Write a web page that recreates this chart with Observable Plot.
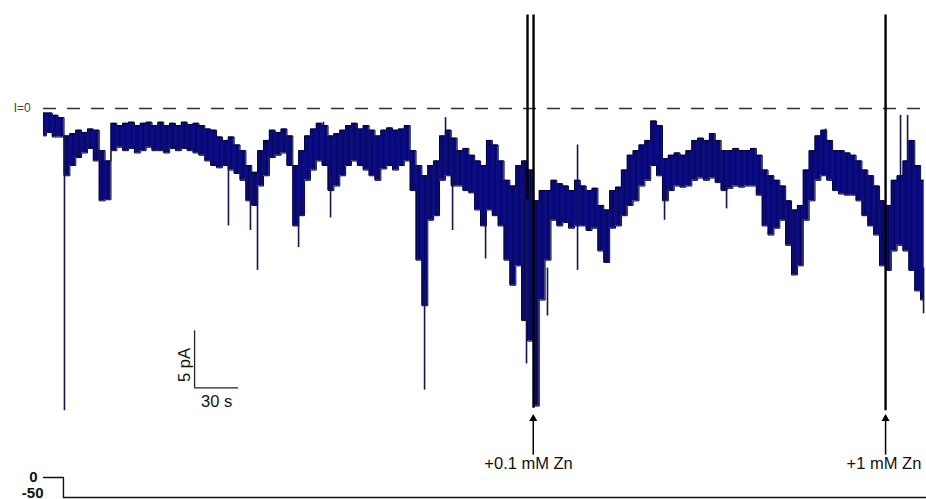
<!DOCTYPE html>
<html>
<head>
<meta charset="utf-8">
<script src="https://cdn.jsdelivr.net/npm/d3@7"></script>
<script src="https://cdn.jsdelivr.net/npm/@observablehq/plot@0.6"></script>
<style>
  html, body { margin: 0; padding: 0; background: #fff; }
  #chart svg { display: block; }
</style>
</head>
<body>
<div id="chart"></div>
<script>
// ---- data (time in s, current in pA) ----
const times = [0,4,8,12,16,20,24,28,32,36,40,44,48,52,56,60,64,68,72,76,80,84,88,92,96,100,104,108,112,116,120,124,128,132,136,140,144,148,152,156,160,164,168,172,176,180,184,188,192,196,200,204,208,212,216,220,224,228,232,236,240,244,248,252,256,260,264,268,272,276,280,284,288,292,296,300,304,308,312,316,320,324,328,332,336,340,344,348,352,356,360,364,368,372,376,380,384,388,392,396,400,404,408,412,416,420,424,428,432,436,440,444,448,452,456,460,464,468,472,476,480,484,488,492,496,500,504,508,512,516,520,524,528,532,536,540,544,548,552,556,560,564,568,572,576,580,584,588,592,596,600];
const currentHigh = [
  -0.4,-0.4,-0.6,-0.8,-2.4,-2.2,-1.9,-2.1,-1.8,-1.9,
  -3.7,-4.6,-1.3,-1.5,-1.3,-1.2,-1.5,-1.3,-1.2,-1.5,
  -1.2,-1.5,-1.3,-1.5,-1.2,-1.4,-1.3,-1.5,-1.8,-1.9,
  -2.5,-2.8,-2.5,-3.2,-3.7,-5.0,-5.6,-3.7,-2.8,-1.9,
  -2.1,-1.8,-2.4,-5.0,-3.7,-2.4,-1.8,-1.3,-1.5,-2.4,
  -2.2,-1.9,-1.5,-1.3,-1.8,-1.5,-1.9,-2.4,-1.9,-1.7,
  -1.9,-1.8,-1.5,-3.7,-5.0,-5.9,-5.0,-4.6,-2.4,-1.9,
  -2.6,-3.7,-3.5,-4.1,-4.6,-5.0,-2.8,-3.2,-4.6,-6.3,
  -6.8,-5.0,-4.6,-5.4,-8.1,-7.2,-7.2,-6.3,-6.6,-6.8,
  -7.2,-6.3,-6.8,-7.2,-7.0,-8.5,-8.9,-7.2,-6.9,-5.4,
  -4.1,-3.7,-3.2,-2.8,-1.1,-1.5,-4.4,-4.1,-3.9,-4.1,
  -3.7,-2.8,-2.6,-2.8,-2.2,-2.8,-3.7,-3.7,-3.5,-3.7,
  -3.7,-3.5,-4.1,-5.4,-5.9,-6.3,-6.8,-8.1,-8.9,-8.5,
  -5.4,-3.7,-2.4,-1.9,-2.8,-3.7,-3.7,-3.9,-4.1,-4.6,
  -5.4,-5.9,-6.8,-8.1,-8.5,-6.3,-5.9,-4.6,-2.8,-5.0,-6.3];
const currentLow = [
  -2.4,-2.1,-2.5,-2.5,-5.9,-5.0,-4.3,-3.9,-3.5,-4.6,
  -8.1,-8.0,-3.7,-3.4,-3.7,-3.5,-3.9,-3.7,-3.4,-3.7,
  -3.7,-3.9,-3.5,-3.7,-3.5,-3.7,-3.9,-4.1,-4.6,-5.0,
  -5.2,-5.0,-5.4,-5.7,-6.3,-8.1,-8.5,-6.8,-5.9,-4.3,
  -4.1,-3.9,-5.0,-10.3,-9.4,-6.3,-5.4,-4.6,-5.0,-7.2,
  -6.8,-5.9,-5.0,-4.6,-5.0,-5.4,-5.9,-6.3,-5.3,-5.0,
  -5.4,-5.0,-4.6,-7.2,-13.3,-17.3,-9.8,-9.4,-6.3,-5.9,
  -6.8,-6.8,-7.2,-7.4,-8.9,-10.3,-8.9,-9.4,-10.3,-13.3,
  -15.5,-13.8,-18.6,-20.4,-26.1,-16.8,-13.3,-9.8,-10.3,-10.0,
  -10.5,-10.3,-10.3,-10.7,-10.5,-12.5,-13.5,-10.5,-10.3,-9.4,
  -8.5,-8.1,-6.8,-6.3,-5.0,-5.9,-8.1,-7.2,-6.8,-6.9,
  -6.8,-6.3,-6.1,-6.3,-6.1,-6.5,-7.2,-7.0,-6.8,-6.9,
  -6.8,-6.8,-7.6,-10.3,-11.1,-10.5,-9.8,-12.0,-14.6,-13.8,
  -9.8,-8.1,-6.3,-5.9,-6.3,-7.2,-7.5,-7.6,-7.6,-8.1,
  -9.4,-10.3,-11.1,-13.8,-14.2,-12.5,-12.0,-12.5,-14.2,-16.0,-16.8];

// brief openings / spikes of the trace
const spikeTimes = [14.3, 126.1, 141.1, 145.9, 173.9, 195.7, 259.8, 278.9, 301.4, 343.6, 364.1, 423.4, 465.7, 600, 274.1, 190.9, 533.2, 584.3, 589.1, 329.3];
const spikeFrom  = [-2.4, -4.5, -6.0, -7.0, -8.0, -6.0, -15.0, -6.0, -9.0, -14.0, -3.2, -7.0, -6.5, -14.0, -3.0, -2.0, -3.0, -6.0, -6.0, -8.0];
const spikeTo    = [-26.5, -10.3, -10.7, -14.2, -12.2, -9.6, -24.7, -10.7, -13.2, -18.2, -14.2, -9.8, -8.8, -18.0, -0.8, -1.2, -1.8, -0.6, -0.6, -22.4];

// application artifacts (black)
const artifactTimes = [330.0, 334.1, 574.1];
const artifactTop   = [8.2, 8.2, 8.2];
const artifactBottom= [-8.0, -26.3, -26.5];

// drug applications
const drugTimes  = [333.9, 574.1];
const drugLabels = ["+0.1 mM Zn", "+1 mM Zn"];
const drugLabelTimes = [330.7, 573.0];

// scale bar
const scaleBarTime = 30;   // s
const scaleBarCurrent = 5; // pA
const scaleBarOrigin = [103, -24.5];

// holding potential protocol (mV)
const protocolTimes = [0, 13.6, 13.6, 602];
const protocolVoltages = [0, 0, -50, -50];
const voltageTicks = [0, -50];

// ---- build ----
const trace = times.map((t, i) => ({t, hi: currentHigh[i], lo: currentLow[i]}));
const spikes = spikeTimes.map((t, i) => ({t, a: spikeFrom[i], b: spikeTo[i]}));
const artifacts = artifactTimes.map((t, i) => ({t, a: artifactTop[i], b: artifactBottom[i]}));
const drugs = drugTimes.map((t, i) => ({t, label: drugLabels[i], lt: drugLabelTimes[i]}));
const protocol = protocolTimes.map((t, i) => ({t, v: protocolVoltages[i]}));

const font = "'Liberation Sans', Arial, sans-serif";
const navy = "#0b0b84";
const dark = "#03032e";

const main = Plot.plot({
  width: 926, height: 470,
  marginLeft: 43, marginRight: 0, marginTop: 0, marginBottom: 0,
  style: {fontFamily: font, background: "white", overflow: "visible"},
  x: {domain: [0, 602], axis: null},
  y: {domain: [-31.75, 9.474], axis: null},
  marks: [
    Plot.ruleY([0], {x1: 0, x2: 602, stroke: "#333", strokeWidth: 1.3, strokeDasharray: "13,11"}),
    Plot.text(["I=0"], {x: -14.5, y: 0, fontSize: 12, fill: "#444", textAnchor: "middle"}),
    Plot.areaY(trace, {x: "t", y1: "lo", y2: "hi", curve: "step", fill: navy}),
    Plot.ruleX(trace, {x: "t", y1: "lo", y2: "hi", stroke: dark, strokeWidth: 0.8, strokeOpacity: 0.8}),
    Plot.line(trace, {x: "t", y: "hi", curve: "step", stroke: dark, strokeWidth: 1}),
    Plot.line(trace, {x: "t", y: "lo", curve: "step", stroke: dark, strokeWidth: 1}),
    Plot.ruleX(spikes, {x: "t", y1: "a", y2: "b", stroke: "#141450", strokeWidth: 1.6}),
    Plot.ruleX(artifacts, {x: "t", y1: "a", y2: "b", stroke: "#000", strokeWidth: 2.4}),
    // drug arrows
    Plot.ruleX(drugs, {x: "t", y1: -30.4, y2: -27.1, stroke: "#000", strokeWidth: 1.5}),
    Plot.dot(drugs, {x: "t", y: -27.2, symbol: "triangle", r: 3, fill: "#000", stroke: null}),
    Plot.text(drugs, {x: "lt", y: -31.15, text: "label", fontSize: 16.5, fill: "#111", textAnchor: "middle"}),
    // scale bar
    Plot.ruleX([scaleBarOrigin], {x: d => d[0], y1: d => d[1], y2: d => d[1] + scaleBarCurrent, stroke: "#222", strokeWidth: 1.3}),
    Plot.ruleY([scaleBarOrigin], {y: d => d[1], x1: d => d[0], x2: d => d[0] + scaleBarTime, stroke: "#222", strokeWidth: 1.3}),
    Plot.text([scaleBarOrigin], {x: d => d[0] - 6.8, y: d => d[1] + 2.0, text: () => scaleBarCurrent + " pA", rotate: -90, fontSize: 16.5, fill: "#111", textAnchor: "middle"}),
    Plot.text([scaleBarOrigin], {x: d => d[0] + 15, y: d => d[1] - 1.2, text: () => scaleBarTime + " s", fontSize: 16.5, fill: "#111", textAnchor: "middle"})
  ]
});

const volt = Plot.plot({
  width: 926, height: 29,
  marginLeft: 43, marginRight: 0, marginTop: 0, marginBottom: 0,
  style: {fontFamily: font, background: "white", overflow: "visible"},
  x: {domain: [0, 602], axis: null},
  y: {domain: [-55, 17.5], axis: null},
  marks: [
    Plot.line(protocol, {x: "t", y: "v", stroke: "#111", strokeWidth: 1.4}),
    Plot.text(voltageTicks, {x: d => d === 0 ? -4 : 0, y: d => d === 0 ? 0 : -38, text: d => String(d), fontSize: 15, fontWeight: "bold", fill: "#111", textAnchor: "end"})
  ]
});

const el = document.getElementById("chart");
el.appendChild(main);
el.appendChild(volt);
</script>
</body>
</html>
